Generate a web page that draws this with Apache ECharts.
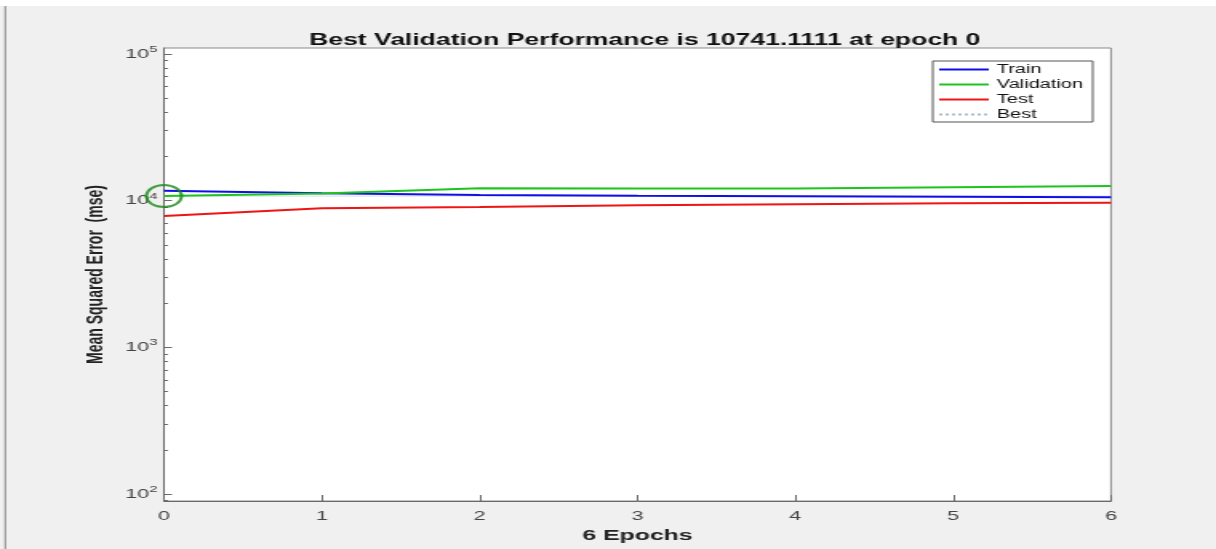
<!DOCTYPE html>
<html>
<head>
<meta charset="utf-8">
<script src="https://cdn.jsdelivr.net/npm/echarts@6/dist/echarts.min.js"></script>
<style>
html,body{margin:0;padding:0;background:#f0f0f0;overflow:hidden;}
#chart{width:760px;height:549px;transform:scaleX(1.6);transform-origin:0 0;}
</style>
</head>
<body>
<div id="chart"></div>
<script>
// ---- data ----
const epochs = [0, 1, 2, 3, 4, 5, 6];
const trainMSE = [11700, 11220, 10930, 10800, 10710, 10640, 10540];
const validationMSE = [10741.1111, 11200, 12150, 12120, 12100, 12350, 12600];
const testMSE = [7865, 8870, 9055, 9290, 9470, 9590, 9690];
const bestValue = 10741.1111;
const bestEpoch = 0;
const yDecades = [2, 3, 4, 5];           // 10^2 .. 10^5
const xTicks = [0, 1, 2, 3, 4, 5, 6];
const titleText = 'Best Validation Performance is 10741.1111 at epoch 0';
const xName = '6 Epochs';
const yName = 'Mean Squared Error  (mse)';
const seriesNames = ['Train', 'Validation', 'Test', 'Best'];

// ---- build ----
const lg = v => Math.log10(v);
const pairs = arr => epochs.map((e, i) => [e, lg(arr[i])]);
const minorTicks = [];
for (let n = 1; n <= 4; n++) for (let k = 2; k <= 9; k++) {
  const v = lg(k * Math.pow(10, n));
  if (v > 1.952 && v < 5.041) minorTicks.push(v);
}
const chart = echarts.init(document.getElementById('chart'));
const axisColor = '#6a6a6a';
const font = 'Liberation Sans, Arial';
chart.setOption({
  backgroundColor: '#f0f0f0',
  animation: false,
  title: {
    text: titleText, left: 398, top: 27, textAlign: 'center',
    textStyle: {fontFamily: font, fontSize: 16.6, fontWeight: 'bold', color: '#111'}
  },
  grid: {left: 102.5, right: 65.6, top: 48, bottom: 48, show: true, backgroundColor: '#ffffff', borderColor: '#8a8a8a', borderWidth: 1},
  legend: {
    data: seriesNames, orient: 'vertical', left: 583, top: 61,
    backgroundColor: '#ffffff', borderColor: '#555', borderWidth: 1,
    padding: [2, 6, 1, 3], itemGap: 2, itemWidth: 31, itemHeight: 11,
    itemStyle: {opacity: 0},
    textStyle: {fontFamily: font, fontSize: 12.5, color: '#111'}
  },
  xAxis: {
    type: 'value', min: 0, max: 6, interval: 1,
    name: xName, nameLocation: 'middle', nameGap: 22,
    nameTextStyle: {fontFamily: font, fontSize: 15.5, fontWeight: 'bold', color: '#222'},
    axisLine: {lineStyle: {color: axisColor}},
    axisTick: {inside: true, length: 6, lineStyle: {color: axisColor}},
    axisLabel: {margin: 8, fontFamily: font, fontSize: 13.5, color: '#444'},
    splitLine: {show: false}
  },
  yAxis: [{
    type: 'value', min: 1.952, max: 5.041,
    name: yName, nameLocation: 'middle', nameGap: 34, nameRotate: 90,
    nameTextStyle: {fontFamily: font, fontSize: 14, fontWeight: 'bold', color: '#222'},
    axisLine: {show: true, lineStyle: {color: axisColor}},
    axisTick: {show: true, inside: true, length: 5, customValues: yDecades, lineStyle: {color: axisColor}},
    axisLabel: {
      customValues: yDecades, margin: 4,
      formatter: v => '{b|10}{s|' + Math.round(v) + '}',
      rich: {
        b: {fontFamily: font, fontSize: 13.5, color: '#444'},
        s: {fontFamily: font, fontSize: 9.5, color: '#444', padding: [0, 0, 9, 0]}
      }
    },
    splitLine: {show: false}
  }, {
    type: 'value', min: 1.952, max: 5.041, position: 'left',
    axisLine: {show: false},
    axisTick: {show: true, inside: true, length: 2.5, customValues: minorTicks, lineStyle: {color: axisColor}},
    axisLabel: {show: false},
    splitLine: {show: false}
  }],
  series: [
    {name: 'Best', type: 'line', data: epochs.map(e => [e, lg(bestValue)]), symbol: 'none',
     lineStyle: {color: '#a9bccb', width: 1, type: 'dotted'}, itemStyle: {color: '#a9bccb'}, z: 1},
    {name: 'Train', type: 'line', data: pairs(trainMSE), symbol: 'none',
     lineStyle: {color: '#1010e6', width: 2}, itemStyle: {color: '#1010e6'}, z: 3},
    {name: 'Validation', type: 'line', data: pairs(validationMSE), symbol: 'none',
     lineStyle: {color: '#1ec41e', width: 2}, itemStyle: {color: '#1ec41e'}, z: 4},
    {name: 'Test', type: 'line', data: pairs(testMSE), symbol: 'none',
     lineStyle: {color: '#ee1515', width: 2}, itemStyle: {color: '#ee1515'}, z: 3},
    {name: 'BestPoint', type: 'scatter', data: [[bestEpoch, lg(bestValue)]], clip: false,
     symbol: 'circle', symbolSize: 22,
     itemStyle: {color: 'rgba(0,0,0,0)', borderColor: '#188a18', borderWidth: 2}, z: 5}
  ],
  graphic: [
    {type: 'rect', shape: {x: 0, y: 0, width: 760, height: 6}, style: {fill: '#ffffff'}, silent: true},
    {type: 'rect', shape: {x: 2.8, y: 6, width: 1, height: 543}, style: {fill: '#8a8a8a'}, silent: true}
  ]
});
</script>
</body>
</html>
